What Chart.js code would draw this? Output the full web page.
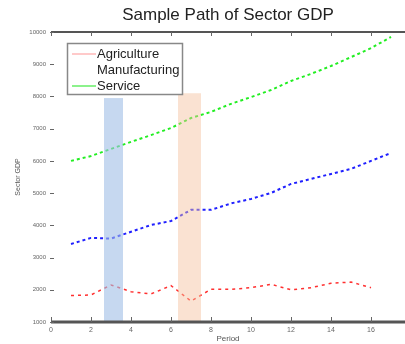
<!DOCTYPE html>
<html>
<head>
<meta charset="utf-8">
<script src="https://cdn.jsdelivr.net/npm/chart.js@4.4.0/dist/chart.umd.min.js"></script>
<style>
  html, body { margin: 0; padding: 0; background: #fff; }
  #wrap { width: 405px; height: 344px; }
</style>
</head>
<body>
<div id="wrap"><canvas id="gdpChart"></canvas></div>
<script>
// --- Data ---
const periods = [1, 2, 3, 4, 5, 6, 7, 8, 9, 10, 11, 12, 13, 14, 15, 16, 17];
const agriculture = [1820, 1840, 2150, 1940, 1870, 2130, 1650, 2015, 2015, 2065, 2170, 2000, 2065, 2200, 2240, 2065, null];
const manufacturing = [3420, 3610, 3590, 3800, 4010, 4135, 4480, 4480, 4680, 4820, 5005, 5285, 5440, 5595, 5750, 6000, 6245];
const service = [6000, 6150, 6370, 6590, 6800, 7020, 7330, 7520, 7770, 7980, 8200, 8480, 8700, 8945, 9220, 9500, 9845];
const seriesNames = ['Agriculture', 'Manufacturing', 'Service'];

// shaded periods
const bandStart = [2.65, 6.35];
const bandEnd = [3.6, 7.5];
const bandTop = [7950, 8100];

const xTickValues = [0, 2, 4, 6, 8, 10, 12, 14, 16];
const yTickValues = [1000, 2000, 3000, 4000, 5000, 6000, 7000, 8000, 9000, 10000];

const toPoints = vals => periods.map((p, i) => ({ x: p, y: vals[i] }));

// --- Plugins ---
const bandsPlugin = {
    id: 'bands',
    afterDatasetsDraw(chart) {
        const { ctx, scales: { x, y } } = chart;
        const colors = ['rgba(160,190,230,0.6)', 'rgba(245,190,155,0.45)'];
        ctx.save();
        bandStart.forEach((s, i) => {
            const x0 = x.getPixelForValue(s);
            const x1 = x.getPixelForValue(bandEnd[i]);
            const y0 = y.getPixelForValue(bandTop[i]);
            const y1 = y.getPixelForValue(y.min);
            ctx.fillStyle = colors[i];
            ctx.fillRect(x0, y0, x1 - x0, y1 - y0);
        });
        ctx.restore();
    }
};

const framePlugin = {
    id: 'frame',
    afterDraw(chart) {
        const { ctx, chartArea: a, scales: { x, y } } = chart;
        ctx.save();
        ctx.strokeStyle = '#555';
        ctx.lineWidth = 2;
        ctx.beginPath();
        ctx.moveTo(a.left, a.top);
        ctx.lineTo(a.right, a.top);
        ctx.stroke();
        ctx.lineWidth = 3;
        ctx.beginPath();
        ctx.moveTo(a.left, a.bottom);
        ctx.lineTo(a.right, a.bottom);
        ctx.stroke();
        ctx.lineWidth = 1;
        ctx.strokeStyle = '#666';
        xTickValues.forEach(v => {
            const px = Math.round(x.getPixelForValue(v)) + 0.5;
            ctx.beginPath();
            ctx.moveTo(px, a.bottom);
            ctx.lineTo(px, a.bottom - 5);
            ctx.moveTo(px, a.top);
            ctx.lineTo(px, a.top + 4);
            ctx.stroke();
        });
        yTickValues.forEach(v => {
            const py = Math.round(y.getPixelForValue(v)) + 0.5;
            ctx.beginPath();
            ctx.moveTo(a.left - 1, py);
            ctx.lineTo(a.left + 3, py);
            ctx.stroke();
        });
        ctx.restore();
    }
};

const legendPlugin = {
    id: 'boxLegend',
    afterDraw(chart) {
        const { ctx } = chart;
        const swatches = ['#ffb8b8', null, '#66ee66'];
        ctx.save();
        ctx.fillStyle = '#fff';
        ctx.fillRect(67, 43, 116, 52);
        ctx.strokeStyle = '#888';
        ctx.lineWidth = 1.5;
        ctx.strokeRect(67.5, 43.5, 115, 51);
        ctx.font = '13px "Liberation Sans", sans-serif';
        ctx.textBaseline = 'middle';
        ctx.fillStyle = '#222';
        seriesNames.forEach((name, i) => {
            const ly = 54 + i * 16;
            if (swatches[i]) {
                ctx.strokeStyle = swatches[i];
                ctx.lineWidth = 1.5;
                ctx.beginPath();
                ctx.moveTo(72, ly);
                ctx.lineTo(96, ly);
                ctx.stroke();
            }
            ctx.fillText(name, 97, ly);
        });
        ctx.restore();
    }
};

// --- Chart ---
const ctx = document.getElementById('gdpChart').getContext('2d');
new Chart(ctx, {
    type: 'line',
    data: {
        datasets: [{
            label: seriesNames[0],
            data: toPoints(agriculture),
            borderColor: '#ff3030',
            borderWidth: 1.5,
            borderDash: [3, 4],
            pointRadius: 0,
            spanGaps: false
        }, {
            label: seriesNames[1],
            data: toPoints(manufacturing),
            borderColor: '#2020ff',
            borderWidth: 2,
            borderDash: [3, 3],
            pointRadius: 0
        }, {
            label: seriesNames[2],
            data: toPoints(service),
            borderColor: '#22ee22',
            borderWidth: 2,
            borderDash: [3, 3],
            pointRadius: 0
        }]
    },
    options: {
        responsive: true,
        maintainAspectRatio: false,
        animation: false,
        devicePixelRatio: 1,
        layout: { padding: 0 },
        plugins: {
            legend: { display: false },
            tooltip: { enabled: false },
            title: {
                display: true,
                fullSize: false,
                text: 'Sample Path of Sector GDP',
                color: '#222',
                font: { family: '"Liberation Sans", sans-serif', size: 17, weight: 'normal' },
                padding: { top: 5, bottom: 6.6 }
            }
        },
        scales: {
            x: {
                type: 'linear',
                min: 0,
                max: 17.7,
                grid: { display: false, drawTicks: false },
                border: { display: false },
                ticks: {
                    stepSize: 2,
                    includeBounds: false,
                    padding: 4,
                    color: '#666',
                    font: { family: '"Liberation Sans", sans-serif', size: 7 },
                    maxRotation: 0
                },
                title: {
                    display: true,
                    text: 'Period',
                    color: '#555',
                    font: { family: '"Liberation Sans", sans-serif', size: 8 },
                    padding: { top: 0, bottom: 0 }
                },
                afterFit(scale) { scale.height = 22; }
            },
            y: {
                min: 1000,
                max: 10000,
                grid: { display: false, drawTicks: false },
                border: { display: false },
                ticks: {
                    stepSize: 1000,
                    padding: 5,
                    color: '#666',
                    font: { family: '"Liberation Sans", sans-serif', size: 6 },
                    callback: v => String(v)
                },
                title: {
                    display: true,
                    text: 'Sector GDP',
                    color: '#555',
                    font: { family: '"Liberation Sans", sans-serif', size: 7 },
                    padding: { top: 14, bottom: 0 }
                },
                afterFit(scale) { scale.width = 51; }
            }
        }
    },
    plugins: [bandsPlugin, framePlugin, legendPlugin]
});
</script>
</body>
</html>
